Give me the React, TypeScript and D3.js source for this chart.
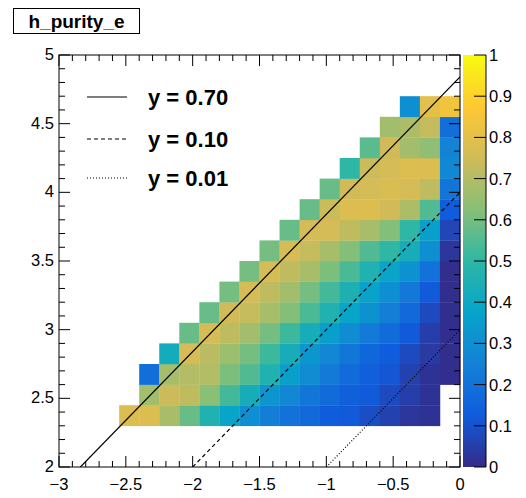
import React from "react";
import * as d3 from "d3";

// ---------------- data ----------------
const titleText = "h_purity_e";
const xDomain: [number, number] = [-3, 0];
const yDomain: [number, number] = [2, 5];
const binWidthX = 0.15;
const binWidthY = 0.15;

// y-bin index (0 = [2.00,2.15]) of each filled row, and first filled x-bin of that row
const rowBinIndex = [2, 3, 4, 5, 6, 7, 8, 9, 10, 11, 12, 13, 14, 15, 16, 17];
const rowFirstBin = [3, 4, 4, 5, 6, 7, 8, 9, 10, 11, 12, 13, 14, 15, 16, 17];

const row02 = [0.78, 0.78, 0.68, 0.58, 0.46, 0.38, 0.3, 0.24, 0.2, 0.17, 0.13, 0.12, 0.09, 0.06, 0.03, 0.02];
const row03 = [0.67, 0.74, 0.72, 0.63, 0.53, 0.43, 0.32, 0.27, 0.21, 0.18, 0.14, 0.12, 0.08, 0.05, 0.02];
const row04 = [0.19, 0.68, 0.7, 0.7, 0.61, 0.55, 0.46, 0.36, 0.29, 0.23, 0.18, 0.14, 0.11, 0.06, 0.02, 0.01];
const row05 = [0.42, 0.76, 0.71, 0.66, 0.6, 0.52, 0.43, 0.33, 0.27, 0.21, 0.16, 0.13, 0.08, 0.04, 0.01];
const row06 = [0.58, 0.76, 0.72, 0.67, 0.6, 0.52, 0.43, 0.36, 0.29, 0.23, 0.18, 0.12, 0.05, 0.01];
const row07 = [0.58, 0.75, 0.73, 0.68, 0.62, 0.54, 0.46, 0.38, 0.31, 0.24, 0.17, 0.08, 0.01];
const row08 = [0.6, 0.76, 0.72, 0.67, 0.6, 0.53, 0.45, 0.37, 0.3, 0.22, 0.12, 0.01];
const row09 = [0.6, 0.76, 0.72, 0.68, 0.61, 0.54, 0.46, 0.38, 0.31, 0.2, 0.01];
const row10 = [0.6, 0.76, 0.73, 0.68, 0.62, 0.55, 0.5, 0.43, 0.3, 0.03];
const row11 = [0.58, 0.76, 0.76, 0.72, 0.68, 0.62, 0.5, 0.36, 0.07];
const row12 = [0.58, 0.74, 0.78, 0.78, 0.75, 0.69, 0.55, 0.13];
const row13 = [0.58, 0.75, 0.76, 0.77, 0.76, 0.72, 0.21];
const row14 = [0.5, 0.74, 0.76, 0.78, 0.78, 0.27];
const row15 = [0.56, 0.75, 0.67, 0.64, 0.26];
const row16 = [0.67, 0.69, 0.73, 0.19];
const row17 = [0.3, 0.8, 0.84];
const rowValues = [row02, row03, row04, row05, row06, row07, row08, row09, row10, row11, row12, row13, row14, row15, row16, row17];

// lines y = x + b
const lineLabels = ["y = 0.70", "y = 0.10", "y = 0.01"];
const lineIntercepts = [4.84, 4.0, 3.0];
const lineDash = ["none", "4,3", "1,2"];

const xTickLabels = ["\u22123", "\u22122.5", "\u22122", "\u22121.5", "\u22121", "\u22120.5", "0"];
const xTickValues = [-3, -2.5, -2, -1.5, -1, -0.5, 0];
const yTickLabels = ["2", "2.5", "3", "3.5", "4", "4.5", "5"];
const yTickValues = [2, 2.5, 3, 3.5, 4, 4.5, 5];
const zTickValues = [0, 0.1, 0.2, 0.3, 0.4, 0.5, 0.6, 0.7, 0.8, 0.9, 1];
const zTickLabels = ["0", "0.1", "0.2", "0.3", "0.4", "0.5", "0.6", "0.7", "0.8", "0.9", "1"];

// ROOT kBird palette
const birdStops = [0, 0.125, 0.25, 0.375, 0.5, 0.625, 0.75, 0.875, 1];
const birdR = [0.2082, 0.0592, 0.078, 0.0232, 0.1802, 0.5301, 0.8186, 0.9956, 0.9764];
const birdG = [0.1664, 0.3599, 0.5041, 0.6419, 0.7178, 0.7492, 0.7328, 0.7862, 0.9832];
const birdB = [0.5293, 0.8684, 0.8385, 0.7914, 0.6425, 0.4662, 0.3499, 0.1968, 0.0539];

// ---------------- layout ----------------
const W = 526;
const H = 498;
const frame = { left: 59, right: 460, top: 55, bottom: 467 };
const bar = { left: 463, right: 486 };
const FONT = "'Liberation Sans', Arial, Helvetica, sans-serif";

export default function App() {
  const x = d3.scaleLinear().domain(xDomain).range([frame.left, frame.right]);
  const y = d3.scaleLinear().domain(yDomain).range([frame.bottom, frame.top]);
  const z = d3.scaleLinear().domain([0, 1]).range([frame.bottom, frame.top]);
  const birdColors = birdStops.map((_, i) =>
    d3.rgb(birdR[i] * 255, birdG[i] * 255, birdB[i] * 255).formatHex()
  );
  const color = d3
    .scaleLinear<string>()
    .domain(birdStops)
    .range(birdColors)
    .interpolate(d3.interpolateRgb)
    .clamp(true);

  const cells: { x0: number; x1: number; y0: number; y1: number; v: number }[] = [];
  rowValues.forEach((vals, ri) => {
    const yb = rowBinIndex[ri];
    const y0 = yDomain[0] + yb * binWidthY;
    vals.forEach((v, k) => {
      const xb = rowFirstBin[ri] + k;
      const x0 = xDomain[0] + xb * binWidthX;
      cells.push({ x0, x1: x0 + binWidthX, y0, y1: y0 + binWidthY, v });
    });
  });

  const minorX = d3.range(-3, 0.0001, 0.1);
  const minorY = d3.range(2, 5.0001, 0.1);
  const majorLen = 11;
  const minorLen = 6;
  const isMajor = (v: number) => Math.abs(v * 2 - Math.round(v * 2)) < 1e-6;

  const lines = lineIntercepts.map((b) => {
    const xa = Math.max(xDomain[0], yDomain[0] - b);
    const xb = Math.min(xDomain[1], yDomain[1] - b);
    return { x1: x(xa), y1: y(xa + b), x2: x(xb), y2: y(xb + b) };
  });

  const legendY = [97, 139, 178];

  return (
    <svg
      width={W}
      height={H}
      style={{ position: "absolute", left: 0, top: 0, background: "#fff" }}
      fontFamily={FONT}
    >
      <defs>
        <linearGradient id="birdGrad" x1="0" y1="1" x2="0" y2="0">
          {birdStops.map((s, i) => (
            <stop key={i} offset={s} stopColor={birdColors[i]} />
          ))}
        </linearGradient>
        <clipPath id="frameClip">
          <rect x={frame.left} y={frame.top} width={frame.right - frame.left} height={frame.bottom - frame.top} />
        </clipPath>
      </defs>

      {/* title box */}
      <rect x={13.5} y={8.5} width={126} height={25} fill="#fff" stroke="#000" strokeWidth={1} />
      <text x={76.5} y={27.5} textAnchor="middle" fontSize={19} fontWeight="bold" fill="#000">
        {titleText}
      </text>

      {/* cells */}
      <g>
        {cells.map((c, i) => (
          <rect
            key={i}
            x={x(c.x0)}
            y={y(c.y1)}
            width={x(c.x1) - x(c.x0) + 0.3}
            height={y(c.y0) - y(c.y1) + 0.3}
            fill={color(c.v)}
          />
        ))}
      </g>

      {/* lines */}
      <g clipPath="url(#frameClip)">
        {lines.map((l, i) => (
          <line
            key={i}
            x1={l.x1}
            y1={l.y1}
            x2={l.x2}
            y2={l.y2}
            stroke="#000"
            strokeWidth={1.2}
            strokeDasharray={lineDash[i]}
          />
        ))}
      </g>

      {/* frame */}
      <rect
        x={frame.left}
        y={frame.top}
        width={frame.right - frame.left}
        height={frame.bottom - frame.top}
        fill="none"
        stroke="#000"
        strokeWidth={1}
      />

      {/* x ticks bottom & top */}
      {minorX.map((v, i) => {
        const len = isMajor(v) ? majorLen : minorLen;
        const px = x(v);
        return (
          <g key={"xt" + i}>
            <line x1={px} x2={px} y1={frame.bottom} y2={frame.bottom - len} stroke="#000" />
            <line x1={px} x2={px} y1={frame.top} y2={frame.top + len} stroke="#000" />
          </g>
        );
      })}
      {/* y ticks left & right */}
      {minorY.map((v, i) => {
        const len = isMajor(v) ? majorLen : minorLen;
        const py = y(v);
        return (
          <g key={"yt" + i}>
            <line x1={frame.left} x2={frame.left + len} y1={py} y2={py} stroke="#000" />
            <line x1={frame.right} x2={frame.right - len} y1={py} y2={py} stroke="#000" />
          </g>
        );
      })}

      {/* x labels */}
      {xTickValues.map((v, i) => (
        <text key={"xl" + i} x={x(v)} y={490} textAnchor="middle" fontSize={16.5} fill="#000">
          {xTickLabels[i]}
        </text>
      ))}
      {/* y labels */}
      {yTickValues.map((v, i) => (
        <text key={"yl" + i} x={54} y={y(v) + 5} textAnchor="end" fontSize={16.5} fill="#000">
          {yTickLabels[i]}
        </text>
      ))}

      {/* legend */}
      {lineLabels.map((lab, i) => (
        <g key={"lg" + i}>
          <line
            x1={87}
            x2={127}
            y1={legendY[i]}
            y2={legendY[i]}
            stroke="#000"
            strokeWidth={1.2}
            strokeDasharray={lineDash[i]}
          />
          <text x={148} y={legendY[i] + 8} fontSize={22} fontWeight="bold" fill="#000">
            {lab}
          </text>
        </g>
      ))}

      {/* color bar */}
      <rect x={bar.left} y={frame.top} width={bar.right - bar.left} height={frame.bottom - frame.top} fill="url(#birdGrad)" />
      {zTickValues.map((v, i) => (
        <g key={"zt" + i}>
          <line x1={bar.right} x2={bar.right - 12} y1={z(v)} y2={z(v)} stroke="#000" />
          <text x={489} y={z(v) + 6} fontSize={16.5} fill="#000">
            {zTickLabels[i]}
          </text>
        </g>
      ))}
      <line x1={bar.right} x2={bar.right} y1={frame.top} y2={frame.bottom} stroke="#000" />
    </svg>
  );
}
